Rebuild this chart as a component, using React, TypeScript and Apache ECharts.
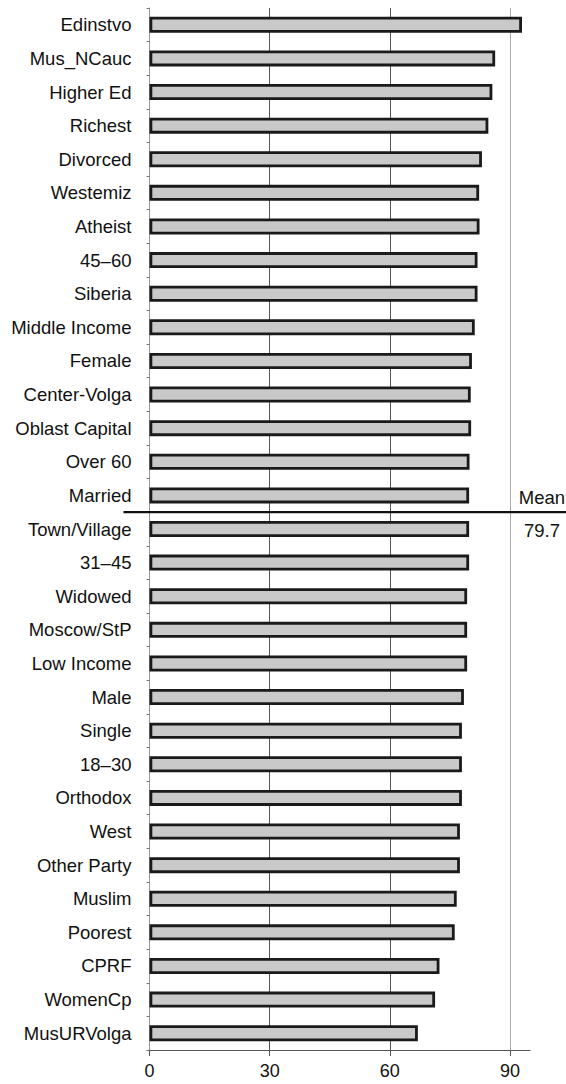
import React, { useEffect, useRef } from "react";
import * as echarts from "echarts";

const categories: string[] = [
  "Edinstvo", "Mus_NCauc", "Higher Ed", "Richest", "Divorced", "Westemiz", "Atheist",
  "45–60", "Siberia", "Middle Income", "Female", "Center-Volga", "Oblast Capital",
  "Over 60", "Married", "Town/Village", "31–45", "Widowed", "Moscow/StP", "Low Income",
  "Male", "Single", "18–30", "Orthodox", "West", "Other Party", "Muslim", "Poorest",
  "CPRF", "WomenCp", "MusURVolga",
];

const values: number[] = [
  93.0, 86.3, 85.6, 84.6, 83.0, 82.3, 82.4,
  81.9, 81.9, 81.2, 80.5, 80.2, 80.3,
  79.9, 79.8, 79.8, 79.8, 79.3, 79.3, 79.3,
  78.5, 78.0, 78.0, 78.0, 77.5, 77.5, 76.7, 76.2,
  72.4, 71.3, 67.0,
];

const xTicks: number[] = [0, 30, 60, 90];
const meanValue = 79.7;
const meanLabel = "Mean";
const meanAfterCategory = "Married";
const meanBeforeCategory = "Town/Village";

const FONT = "'Liberation Sans', Arial, Helvetica, sans-serif";

export default function App() {
  const ref = useRef<HTMLDivElement>(null);

  useEffect(() => {
    document.body.style.margin = "0";
    if (!ref.current) return;
    const chart = echarts.init(ref.current, undefined, { renderer: "svg" });
    chart.setOption({
      animation: false,
      backgroundColor: "#ffffff",
      grid: { left: 149.5, right: 36, top: 8, bottom: 34, containLabel: false },
      xAxis: {
        type: "value",
        min: 0,
        max: 95,
        interval: 30,
        axisLine: { show: true, lineStyle: { color: "#555", width: 1 } },
        axisTick: {
          show: true,
          length: 6,
          customValues: xTicks,
          lineStyle: { color: "#555", width: 1 },
        },
        axisLabel: {
          show: true,
          formatter: (v: number) => (xTicks.indexOf(v) >= 0 ? String(v) : ""),
          color: "#111",
          fontSize: 18,
          fontFamily: FONT,
          margin: 12,
        },
        splitLine: {
          show: true,
          lineStyle: { color: ["#555", "#555", "#555", "#a8a8a8", "rgba(0,0,0,0)"], width: 1 },
        },
      },
      yAxis: {
        type: "category",
        data: categories,
        inverse: true,
        axisLine: { show: true, lineStyle: { color: "#999", width: 1 } },
        axisTick: { show: true, length: 3, lineStyle: { color: "#777" } },
        axisLabel: {
          color: "#111",
          fontSize: 18.5,
          fontFamily: FONT,
          margin: 18,
        },
        splitLine: { show: false },
      },
      series: [
        {
          type: "bar",
          data: values,
          barWidth: 16,
          itemStyle: {
            color: "#c9c9c9",
            borderColor: "#1a1a1a",
            borderWidth: 2.8,
          },
          z: 3,
        },
      ],
    });

    const y1 = chart.convertToPixel({ yAxisIndex: 0 }, meanAfterCategory) as number;
    const y2 = chart.convertToPixel({ yAxisIndex: 0 }, meanBeforeCategory) as number;
    const lineY = (y1 + y2) / 2;
    const xStart = chart.convertToPixel({ xAxisIndex: 0 }, -6.5) as number;
    chart.setOption({
      graphic: [
        {
          type: "line",
          shape: { x1: xStart, y1: lineY, x2: 566, y2: lineY },
          style: { stroke: "#111", lineWidth: 2.2 },
          z: 10,
        },
        {
          type: "text",
          x: 542,
          y: lineY - 15,
          style: {
            text: meanLabel,
            fill: "#111",
            font: `18.5px ${FONT}`,
            textAlign: "center",
            textVerticalAlign: "middle",
          },
          z: 10,
        },
        {
          type: "text",
          x: 542,
          y: lineY + 18,
          style: {
            text: meanValue.toFixed(1),
            fill: "#111",
            font: `18.5px ${FONT}`,
            textAlign: "center",
            textVerticalAlign: "middle",
          },
          z: 10,
        },
      ],
    });

    return () => chart.dispose();
  }, []);

  return <div ref={ref} style={{ width: 566, height: 1084 }} />;
}
